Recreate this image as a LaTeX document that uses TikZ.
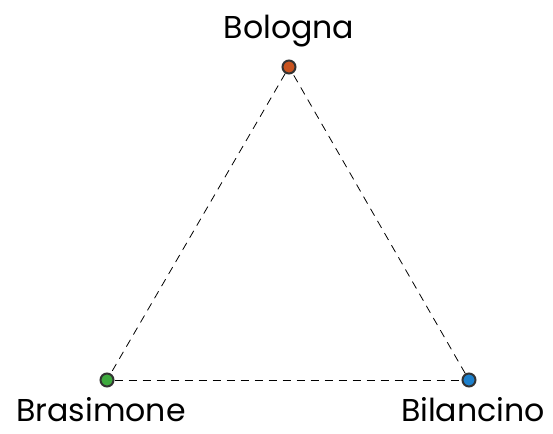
\documentclass[tikz,border=0pt]{standalone}
\usepackage{fontspec}
\setmainfont{Poppins}
\usetikzlibrary{positioning}
\definecolor{bolognaC}{HTML}{C9531F}
\definecolor{brasimoneC}{HTML}{3FAA3F}
\definecolor{bilancinoC}{HTML}{1D80CC}
\begin{document}
\begin{tikzpicture}[x=0.5pt,y=-0.5pt,
  site/.style = {draw=black!80, line width=1pt, circle, inner sep=0pt, minimum size=6.5pt},
  city/.style = {inner sep=0pt, font=\fontsize{15.8}{18}\selectfont},
  link/.style = {dashed, line width=0.4pt, dash pattern=on 4pt off 3pt}]
  \useasboundingbox (0,0) rectangle (553,434);
  \node[site, fill=bolognaC] (bo) at (289,67) {};
  \node[site, fill=brasimoneC] (br) at (107,380) {};
  \node[site, fill=bilancinoC] (bi) at (469,380) {};
  \node[city] (bolabel) [above=6pt of bo] {Bologna};
  \node[city] (brlabel) [below=5pt of br, xshift=-3pt] {Brasimone};
  \node[city] (bilabel) [below=5pt of bi, xshift=2pt] {Bilancino};
  \draw[link] (bo) -- (br);
  \draw[link] (br) -- (bi);
  \draw[link] (bi) -- (bo);
\end{tikzpicture}
\end{document}
